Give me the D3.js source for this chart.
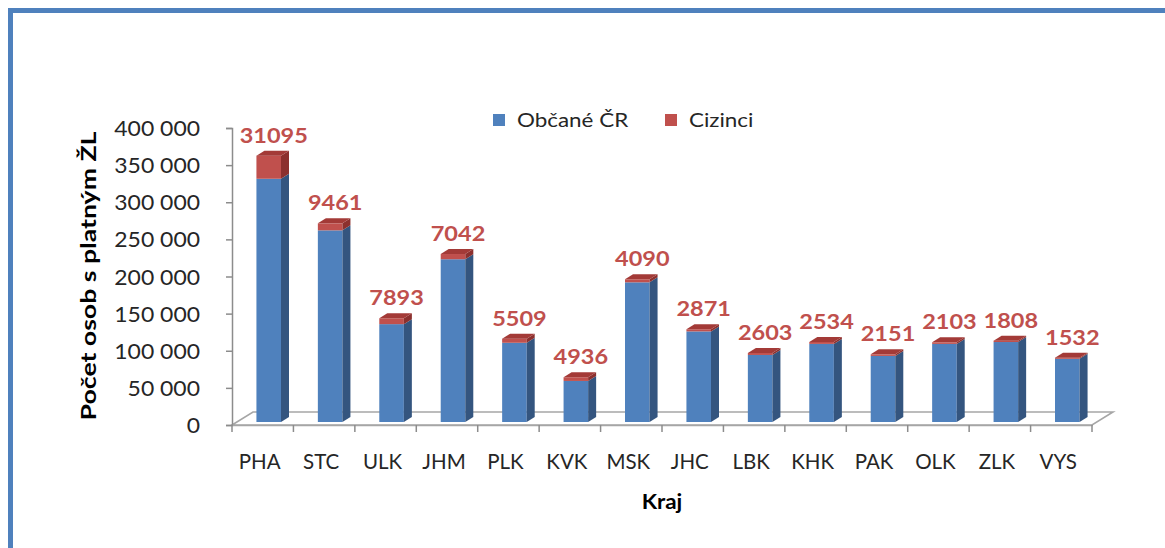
<!DOCTYPE html>
<html>
<head>
<meta charset="utf-8">
<script src="https://cdn.jsdelivr.net/npm/d3@7"></script>
<style>
  html, body { margin: 0; padding: 0; background: #fff; }
  svg { display: block; }
  text { font-family: Lato, "Open Sans", sans-serif; }
</style>
</head>
<body>
<svg id="chart" width="1165" height="548"></svg>
<script>
// Regions (kraje) and people holding a valid trade licence
const categories = ["PHA", "STC", "ULK", "JHM", "PLK", "KVK", "MSK", "JHC", "LBK", "KHK", "PAK", "OLK", "ZLK", "VYS"];
const citizens = [327600, 258100, 131800, 219200, 106700, 55300, 188100, 122000, 90300, 105200, 89000, 105200, 107700, 85100];
const foreigners = [31095, 9461, 7893, 7042, 5509, 4936, 4090, 2871, 2603, 2534, 2151, 2103, 1808, 1532];
const yTicks = [0, 50000, 100000, 150000, 200000, 250000, 300000, 350000, 400000];
const seriesNames = ["Občané ČR", "Cizinci"];
const yTitle = "Počet osob s platným ŽL";
const xTitle = "Kraj";

const svg = d3.select("#chart");

// outer frame
svg.append("rect")
  .attr("x", 10.5).attr("y", 10.5)
  .attr("width", 1400).attr("height", 800)
  .attr("fill", "none").attr("stroke", "#4F81BD").attr("stroke-width", 5);

const plot = { left: 232, right: 1092, top: 128, bottom: 425 };
const floorDepth = { dx: 21, dy: -13 };   // perspective offset of the back edge
const barShift = { dx: 6, dy: -3 };       // bars stand slightly back from the front edge
const barDepth = { dx: 8, dy: -5 };       // thickness of each column

const x = d3.scaleBand().domain(categories).range([plot.left, plot.right]).padding(0);
const y = d3.scaleLinear().domain([0, 400000]).range([plot.bottom, plot.top]);

const axisColor = "#8C8C8C";

// floor
const f = [
  [plot.left, plot.bottom],
  [plot.right, plot.bottom],
  [plot.right + floorDepth.dx, plot.bottom + floorDepth.dy],
  [plot.left + floorDepth.dx, plot.bottom + floorDepth.dy]
];
svg.append("path")
  .attr("d", d3.line()(f) + "Z")
  .attr("fill", "#fff").attr("stroke", "#A6A6A6").attr("stroke-width", 1.6);

// helper for text with horizontal stretch
function stretchedText(parent, px, py, sx, str) {
  const g = parent.append("g").attr("transform", `translate(${px},${py}) scale(${sx},1)`);
  return g.append("text").text(str);
}

// y axis
const yAxis = d3.axisLeft(y).tickValues(yTicks).tickSize(6).tickFormat("");
const yg = svg.append("g").attr("transform", `translate(${plot.left},0)`).call(yAxis);
yg.select(".domain").attr("stroke", axisColor).attr("stroke-width", 1.5);
yg.selectAll(".tick line").attr("stroke", axisColor).attr("stroke-width", 1.5);

const fmt = v => d3.format(",")(v).replace(/,/g, " ");
yTicks.forEach(v => {
  stretchedText(svg, 200, y(v) + 8, 1.12, fmt(v))
    .attr("text-anchor", "end")
    .attr("font-size", 20.5)
    .attr("fill", "#262626");
});

// x axis ticks at category boundaries
const xg = svg.append("g").attr("transform", `translate(0,${plot.bottom})`)
  .call(d3.axisBottom(x).tickSize(0).tickFormat(""));
xg.select(".domain").attr("stroke", "#A6A6A6").attr("stroke-width", 1.6);
const bounds = categories.map(c => x(c)).concat([plot.right]);
svg.append("g").selectAll("line").data(bounds).join("line")
  .attr("x1", d => d).attr("x2", d => d)
  .attr("y1", plot.bottom).attr("y2", plot.bottom + 7)
  .attr("stroke", axisColor).attr("stroke-width", 1.5);

categories.forEach(c => {
  stretchedText(svg, x(c) + x.bandwidth() / 2 - 3, 469, 1.0, c)
    .attr("text-anchor", "middle")
    .attr("font-size", 20.5)
    .attr("fill", "#262626");
});

// 3D columns
const bw = x.bandwidth() * 0.4;
const colors = {
  blue: { front: "#4F81BD", side: "#34557F", top: "#6A95CC" },
  red: { front: "#C0504D", side: "#8C302E", top: "#A33A37" }
};
const yb = v => y(v) + barShift.dy;

function block(g, x0, v0, v1, c, withTop) {
  const x1 = x0 + bw;
  const yTop = yb(v1), yBot = yb(v0);
  g.append("rect").attr("x", x0).attr("y", yTop).attr("width", bw).attr("height", yBot - yTop)
    .attr("fill", c.front);
  g.append("path").attr("d", d3.line()([
    [x1, yBot], [x1 + barDepth.dx, yBot + barDepth.dy],
    [x1 + barDepth.dx, yTop + barDepth.dy], [x1, yTop]
  ]) + "Z").attr("fill", c.side);
  if (withTop) {
    g.append("path").attr("d", d3.line()([
      [x0, yTop], [x1, yTop], [x1 + barDepth.dx, yTop + barDepth.dy], [x0 + barDepth.dx, yTop + barDepth.dy]
    ]) + "Z").attr("fill", c.top);
  }
}

const bars = svg.append("g");
categories.forEach((c, i) => {
  const x0 = x(c) + x.bandwidth() / 2 - bw / 2 + barShift.dx;
  const g = bars.append("g");
  block(g, x0, 0, citizens[i], colors.blue, false);
  block(g, x0, citizens[i], citizens[i] + foreigners[i], colors.red, true);
});

// value labels for foreigners
categories.forEach((c, i) => {
  const cx = x(c) + x.bandwidth() / 2 + barShift.dx + barDepth.dx / 2 + 1;
  const top = yb(citizens[i] + foreigners[i]) + barDepth.dy;
  stretchedText(svg, cx, top - 8, 1.12, String(foreigners[i]))
    .attr("text-anchor", "middle")
    .attr("font-size", 21)
    .attr("font-weight", "bold")
    .attr("fill", "#C0504D");
});

// legend
const legend = svg.append("g");
[["#4F81BD", 493, 517, seriesNames[0]], ["#C0504D", 665, 689, seriesNames[1]]].forEach(([col, sx0, tx, name]) => {
  legend.append("rect").attr("x", sx0).attr("y", 114).attr("width", 12).attr("height", 12).attr("fill", col);
  stretchedText(legend, tx, 127, 1.18, name)
    .attr("font-size", 19)
    .attr("fill", "#262626");
});

// axis titles
svg.append("g").attr("transform", "translate(96,276) rotate(-90) scale(1.3,1)")
  .append("text").text(yTitle)
  .attr("text-anchor", "middle")
  .attr("font-size", 20.5)
  .attr("font-weight", "bold")
  .attr("fill", "#000");

stretchedText(svg, 662, 509, 1.12, xTitle)
  .attr("text-anchor", "middle")
  .attr("font-size", 20)
  .attr("font-weight", "bold")
  .attr("fill", "#000");
</script>
</body>
</html>
